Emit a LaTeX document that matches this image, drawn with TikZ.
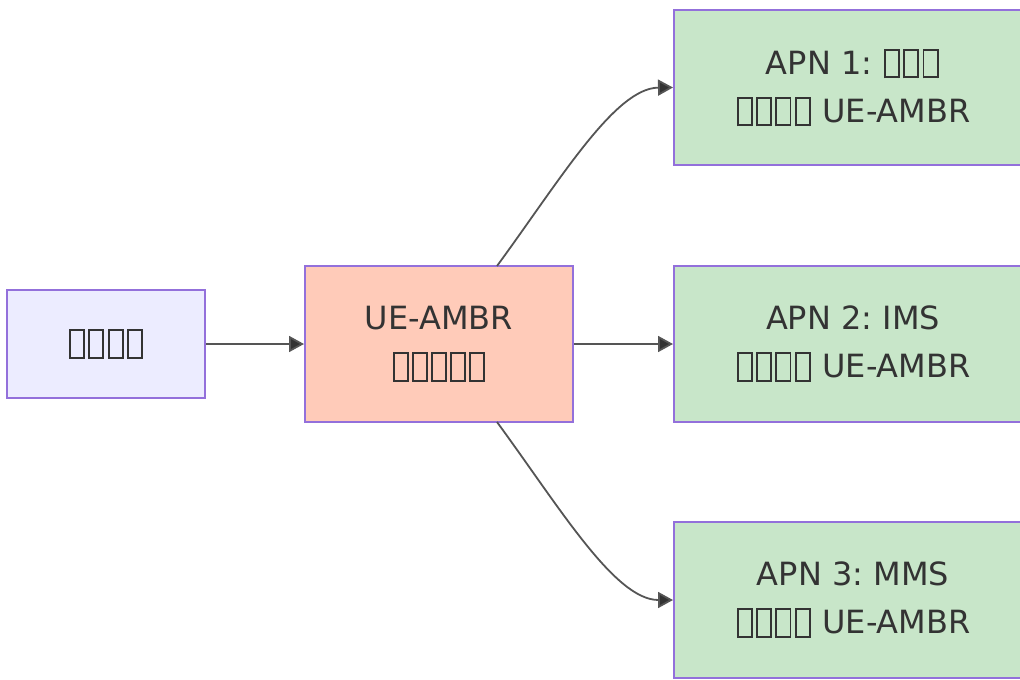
\documentclass[tikz,border=0pt]{standalone}
\usepackage{fontspec}
\setmainfont{DejaVu Sans}
\usetikzlibrary{arrows.meta}
\definecolor{txt}{HTML}{333333}
\definecolor{lnk}{HTML}{555555}
\definecolor{bord}{HTML}{9370DB}
\definecolor{fillA}{HTML}{ECECFF}
\definecolor{fillB}{HTML}{FFCBB9}
\definecolor{fillC}{HTML}{C8E6C9}
\newcommand{\tfrule}{\vrule width0.06em height0.8em depth0.13em}
\newcommand{\tf}{\kern0.05em\tfrule\lower0.13em\vbox to0.93em{\hrule width0.38em height0.06em\vfill\hrule width0.38em height0.06em}\tfrule\kern0.05em}
\tikzset{
  box/.style={draw=bord, line width=2pt, text=txt, align=center, inner sep=0pt,
    font=\fontsize{32}{48}\selectfont\frenchspacing},
  link/.style={draw=lnk, line width=1.8pt, -{Triangle[length=15pt,width=16pt,fill=txt]}}
}
\begin{document}
\begin{tikzpicture}[x=1pt,y=-1pt]
\useasboundingbox (0,0) rectangle (1020,680);
\clip (0,0) rectangle (1020,680);
\node[box, fill=fillA, minimum width=198pt, minimum height=108pt] (a) at (106,344) {\tf\tf\tf\tf};
\node[box, fill=fillB, minimum width=268pt, minimum height=156pt] (b) at (439,344) {UE-AMBR\\\tf\tf\tf\tf\tf};
\node[box, fill=fillC, minimum width=358pt, minimum height=155pt, anchor=west] (c1) at (673,87.5) {APN 1: \tf\tf\tf\\\tf\tf\tf\tf\ UE-AMBR};
\node[box, fill=fillC, minimum width=358pt, minimum height=156pt, anchor=west] (c2) at (673,344) {APN 2: IMS\\\tf\tf\tf\tf\ UE-AMBR};
\node[box, fill=fillC, minimum width=358pt, minimum height=156pt, anchor=west] (c3) at (673,600) {APN 3: MMS\\\tf\tf\tf\tf\ UE-AMBR};
\draw[link] (a.east) -- (b.west);
\draw[link] (b.east) -- (c2.west);
\coordinate (b1) at (497,266);
\coordinate (b3) at (497,422);
\draw[link] (b1) .. controls (560,180) and (615,88) .. (c1.west);
\draw[link] (b3) .. controls (560,508) and (615,600) .. (c3.west);
\end{tikzpicture}
\end{document}
